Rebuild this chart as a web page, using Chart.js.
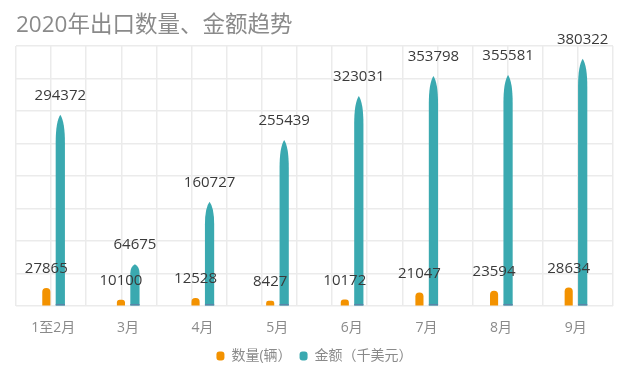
<!DOCTYPE html>
<html>
<head>
<meta charset="utf-8">
<script src="https://cdn.jsdelivr.net/npm/chart.js@4/dist/chart.umd.min.js"></script>
<style>
html,body{margin:0;padding:0;background:#fff;}
#wrap{width:630px;height:379px;position:relative;}
</style>
</head>
<body>
<div id="wrap"><canvas id="c" width="630" height="379"></canvas></div>
<script>
const categories = ['1至2月','3月','4月','5月','6月','7月','8月','9月'];
const quantity = [27865, 10100, 12528, 8427, 10172, 21047, 23594, 28634];
const amount = [294372, 64675, 160727, 255439, 323031, 353798, 355581, 380322];
const seriesNames = ['数量(辆）', '金额（千美元）'];
const titleText = '2020年出口数量、金额趋势';

const ORANGE = '#F39200';
const TEAL = '#3AA9B0';
const FONT = "'Open Sans','Noto Sans CJK SC',sans-serif";

const labelPlugin = {
  id: 'valueLabels',
  afterDatasetsDraw(chart) {
    const ctx = chart.ctx;
    ctx.save();
    ctx.font = "15px " + FONT;
    ctx.fillStyle = '#3A3A3A';
    ctx.textAlign = 'center';
    ctx.textBaseline = 'middle';
    chart.data.datasets.forEach((ds, i) => {
      const meta = chart.getDatasetMeta(i);
      meta.data.forEach((el, j) => {
        ctx.fillText(String(ds.data[j]), el.x, el.y - 19);
      });
    });
    ctx.restore();
  }
};

const taperPlugin = {
  id: 'taper',
  beforeDatasetDraw(chart, args) {
    if (args.index !== 1) return;
    const ctx = chart.ctx;
    const meta = args.meta;
    ctx.save();
    meta.data.forEach(el => {
      const w = el.width, x = el.x, top = el.y, base = el.base;
      const h = base - top;
      const ry = Math.min(h * 0.22, 28);
      ctx.beginPath();
      ctx.moveTo(x - w / 2, base);
      ctx.lineTo(x - w / 2, top + ry);
      ctx.quadraticCurveTo(x - w / 2, top + ry * 0.25, x, top);
      ctx.quadraticCurveTo(x + w / 2, top + ry * 0.25, x + w / 2, top + ry);
      ctx.lineTo(x + w / 2, base);
      ctx.closePath();
      ctx.fillStyle = TEAL;
      ctx.fill();
      ctx.fillStyle = '#5A84A8';
      ctx.fillRect(x - w / 2, base - 1.5, w, 1.5);
    });
    ctx.restore();
    return false;
  }
};

new Chart(document.getElementById('c'), {
  type: 'bar',
  data: {
    labels: categories,
    datasets: [
      {
        label: seriesNames[0],
        data: quantity,
        backgroundColor: ORANGE,
        borderRadius: {topLeft: 4, topRight: 4, bottomLeft: 0, bottomRight: 0},
        borderSkipped: false,
        barPercentage: 0.58,
        categoryPercentage: 0.375
      },
      {
        label: seriesNames[1],
        data: amount,
        backgroundColor: TEAL,
        barPercentage: 0.66,
        categoryPercentage: 0.375
      }
    ]
  },
  options: {
    responsive: false,
    animation: false,
    layout: {padding: {left: 16, right: 17, top: 12, bottom: 6}},
    plugins: {
      title: {
        display: true,
        text: titleText,
        align: 'start',
        color: '#8A8A8A',
        font: {family: FONT, size: 22.5, weight: 'normal'},
        padding: {top: 0, bottom: 7}
      },
      legend: {
        position: 'bottom',
        labels: {
          color: '#8A8A8A',
          font: {family: FONT, size: 14},
          boxWidth: 8,
          boxHeight: 9,
          useBorderRadius: true,
          borderRadius: 3,
          padding: 8
        }
      },
      tooltip: {enabled: false}
    },
    scales: {
      x: {
        type: 'category',
        offset: true,
        grid: {display: false},
        border: {display: false},
        ticks: {color: '#8A8A8A', font: {family: FONT, size: 14}, padding: 5}
      },
      x2: {
        type: 'linear',
        position: 'bottom',
        min: 0, max: 16,
        ticks: {display: false, stepSize: 1},
        grid: {color: '#EBEBEB', lineWidth: 1.5, drawTicks: false},
        border: {display: false}
      },
      y: {
        min: 0, max: 400000,
        ticks: {display: false, stepSize: 50000},
        grid: {color: '#EBEBEB', lineWidth: 1.5, drawTicks: false},
        border: {display: false}
      }
    }
  },
  plugins: [labelPlugin, taperPlugin]
});
</script>
</body>
</html>
